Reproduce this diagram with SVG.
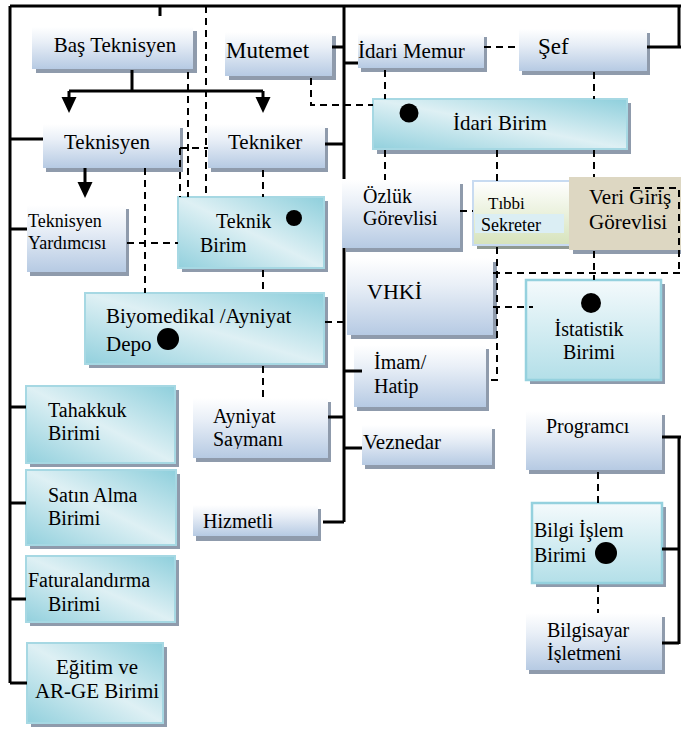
<svg xmlns="http://www.w3.org/2000/svg" width="681" height="729" viewBox="0 0 681 729" font-size="20">
<defs>
<style>
text{font-family:"Liberation Serif","Times New Roman",serif;fill:#000}
.sh{fill:#8f9bac}
.g{fill:url(#gb)}
.c{fill:url(#gc);stroke:#a6d8e3;stroke-width:2}
.c2{fill:url(#gc2);stroke:#95d1de;stroke-width:2.5}
.dot{fill:#000}
.s{stroke:#000;stroke-width:3;fill:none}
.d{stroke:#000;stroke-width:2;stroke-dasharray:7 5;fill:none}
</style>
<linearGradient id="gb" x1="0" y1="0" x2="0" y2="1">
<stop offset="0" stop-color="#ffffff"/>
<stop offset="0.35" stop-color="#e9eff7"/>
<stop offset="1" stop-color="#b6cae3"/>
</linearGradient>
<linearGradient id="gc" x1="1" y1="0" x2="0" y2="1">
<stop offset="0" stop-color="#8ecfdc"/>
<stop offset="0.5" stop-color="#def0f4"/>
<stop offset="1" stop-color="#92d0dd"/>
</linearGradient>
<linearGradient id="gc2" x1="0" y1="0" x2="0" y2="1">
<stop offset="0" stop-color="#f4fafc"/>
<stop offset="1" stop-color="#b3dfe8"/>
</linearGradient>
<linearGradient id="gt" x1="0" y1="0" x2="0" y2="1">
<stop offset="0" stop-color="#ffffff"/>
<stop offset="1" stop-color="#d6e3bb"/>
</linearGradient>
<marker id="ah" markerUnits="userSpaceOnUse" markerWidth="16" markerHeight="16" refX="0" refY="7.5" orient="auto">
<path d="M0,0 L16,7.5 L0,15 Z" fill="#000"/>
</marker>
<clipPath id="clA"><rect x="190" y="395" width="140" height="54"/></clipPath>
<clipPath id="clH"><rect x="190" y="500" width="130" height="28"/></clipPath>
<clipPath id="clF"><rect x="20" y="550" width="160" height="63"/></clipPath>
<clipPath id="clB"><rect x="520" y="610" width="145" height="53"/></clipPath>
</defs>
<rect width="681" height="729" fill="#ffffff"/>

<g id="n-bas-teknisyen"><rect class="sh" x="36" y="31" width="161" height="42"/><rect class="g" x="32" y="27" width="161" height="42"/><text x="115" y="52" font-size="21" text-anchor="middle">Baş Teknisyen</text></g>
<g id="n-mutemet"><rect class="sh" x="229" y="36" width="107" height="44"/><rect class="g" x="225" y="32" width="107" height="44"/><text x="226" y="58" font-size="23">Mutemet</text></g>
<g id="n-idari-memur"><rect class="sh" x="361" y="37" width="126" height="35"/><rect class="g" x="358" y="33" width="126" height="35"/><text x="358" y="58" font-size="21">İdari Memur</text></g>
<g id="n-sef"><rect class="sh" x="522" y="33" width="128" height="42"/><rect class="g" x="519" y="29" width="128" height="42"/><text x="538" y="54" font-size="23">Şef</text></g>
<g id="n-teknisyen"><rect class="sh" x="46" y="128" width="137" height="44"/><rect class="g" x="43" y="124" width="137" height="44"/><text x="64" y="149" font-size="21">Teknisyen</text></g>
<g id="n-tekniker"><rect class="sh" x="211" y="128" width="117" height="44"/><rect class="g" x="208" y="124" width="117" height="44"/><text x="228" y="149" font-size="21">Tekniker</text></g>
<g id="n-idari-birim"><rect class="sh" x="377" y="103" width="254" height="51"/><rect class="c" x="373" y="99" width="254" height="50"/><circle class="dot" cx="409" cy="113" r="9.5"/><text x="453" y="130" font-size="21">İdari Birim</text></g>
<g id="n-teknisyen-yardimcisi"><rect class="sh" x="30" y="209" width="99" height="67"/><rect class="g" x="27" y="205" width="99" height="67"/><text x="28" y="227" font-size="18">Teknisyen</text><text x="28" y="249" font-size="18">Yardımcısı</text></g>
<g id="n-teknik-birim"><rect class="sh" x="182" y="201" width="146" height="71"/><rect class="c" x="178" y="197" width="146" height="71"/><circle class="dot" cx="294" cy="218" r="8"/><text x="216" y="228">Teknik</text><text x="200" y="252">Birim</text></g>
<g id="n-ozluk"><rect class="sh" x="346" y="184" width="117" height="68"/><rect class="g" x="342" y="180" width="118" height="68"/><text x="363" y="203">Özlük</text><text x="363" y="225">Görevlisi</text></g>
<g id="n-tibbi-sekreter"><rect x="477" y="185" width="98" height="64" fill="#8f9a92"/><rect x="473" y="181" width="98" height="64" fill="url(#gt)" stroke="#c8dbf1" stroke-width="2"/><rect x="475" y="214" width="89" height="19" fill="#dbeef4"/><text x="488" y="209" font-size="17">Tıbbi</text><text x="481" y="231" font-size="18">Sekreter</text></g>
<g id="n-veri-giris"><rect class="sh" x="573" y="181" width="115" height="73"/><rect x="569" y="177" width="115" height="73" fill="#ddd7c2"/><text x="589" y="204" font-size="21">Veri Giriş</text><text x="589" y="229" font-size="21">Görevlisi</text></g>
<g id="n-vhki"><rect class="sh" x="351" y="262" width="146" height="77"/><rect class="g" x="347" y="258" width="146" height="77"/><text x="367" y="299" font-size="22">VHKİ</text></g>
<g id="n-biyomedikal"><rect class="sh" x="89" y="297" width="239" height="71"/><rect class="c" x="85" y="293" width="239" height="71"/><text x="106" y="323" font-size="21">Biyomedikal /Ayniyat</text><text x="106" y="351" font-size="21">Depo</text><circle class="dot" cx="168" cy="339" r="11"/></g>
<g id="n-imam-hatip"><rect class="sh" x="357" y="349" width="132" height="62"/><rect class="g" x="354" y="345" width="132" height="62"/><text x="374" y="369">İmam/</text><text x="374" y="393">Hatip</text></g>
<g id="n-veznedar"><rect class="sh" x="365" y="429" width="130" height="40"/><rect class="g" x="362" y="425" width="130" height="40"/><text x="363" y="449" font-size="21">Veznedar</text></g>
<g id="n-ayniyat-saymani"><rect class="sh" x="196" y="402" width="135" height="60"/><rect class="g" x="193" y="398" width="135" height="60"/><text x="213" y="423">Ayniyat</text><text x="213" y="446" clip-path="url(#clA)">Saymanı</text></g>
<g id="n-hizmetli"><rect class="sh" x="196" y="509" width="125" height="32"/><rect class="g" x="193" y="505" width="125" height="31"/><text x="203" y="528" clip-path="url(#clH)">Hizmetli</text></g>
<g id="n-tahakkuk"><rect class="sh" x="30" y="390" width="149" height="77"/><rect class="c" x="26" y="386" width="149" height="77"/><text x="48" y="417">Tahakkuk</text><text x="48" y="440">Birimi</text></g>
<g id="n-satin-alma"><rect class="sh" x="30" y="474" width="150" height="75"/><rect class="c" x="26" y="470" width="150" height="75"/><text x="48" y="502">Satın Alma</text><text x="48" y="525">Birimi</text></g>
<g id="n-faturalandirma"><rect class="sh" x="30" y="560" width="149" height="66"/><rect class="c" x="26" y="556" width="149" height="66"/><text x="28" y="587">Faturalandırma</text><text x="48" y="611" clip-path="url(#clF)">Birimi</text></g>
<g id="n-egitim"><rect class="sh" x="31" y="647" width="136" height="80"/><rect class="c" x="27" y="643" width="136" height="80"/><text x="97" y="674" font-size="21" text-anchor="middle">Eğitim ve</text><text x="97" y="698" font-size="21" text-anchor="middle">AR-GE Birimi</text></g>
<g id="n-istatistik"><rect class="sh" x="530" y="284" width="135" height="100"/><rect class="c2" x="526" y="280" width="135" height="100"/><circle class="dot" cx="591" cy="303" r="10"/><text x="589" y="336" text-anchor="middle">İstatistik</text><text x="589" y="359" text-anchor="middle">Birimi</text></g>
<g id="n-programci"><rect class="sh" x="529" y="415" width="136" height="59"/><rect class="g" x="526" y="411" width="136" height="59"/><text x="546" y="433">Programcı</text></g>
<g id="n-bilgi-islem"><rect class="sh" x="536" y="507" width="130" height="80"/><rect class="c2" x="532" y="503" width="130" height="80"/><text x="534" y="537">Bilgi İşlem</text><text x="534" y="562">Birimi</text><circle class="dot" cx="606" cy="553" r="11"/></g>
<g id="n-bilgisayar"><rect class="sh" x="529" y="617" width="136" height="57"/><rect class="g" x="526" y="613" width="136" height="57"/><text x="547" y="637">Bilgisayar</text><text x="547" y="660" clip-path="url(#clB)">İşletmeni</text></g>

<g id="connectors">
<path class="s" d="M10,6 H681 M160,6 V16 M10,6 V683 M10,139 H43 M10,229 H27 M10,407 H26 M10,503 H26 M10,599 H26 M10,683 H27"/>
<path class="s" d="M132,70 V91 M69,91 H263"/>
<path class="s" d="M69,91 V97" marker-end="url(#ah)"/>
<path class="s" d="M263,91 V97" marker-end="url(#ah)"/>
<path class="s" d="M85,168 V182" marker-end="url(#ah)"/>
<path class="s" d="M344,6 V179 M344,248 V522 M332,47 H344 M344,63 H358 M325,144 H344 M344,371 H362 M344,448 H362 M328,417 H344 M323,522 H344"/>
<path class="s" d="M647,47 H681 M679,6 V47 M662,437 H681 M679,437 V644 M662,549 H679 M662,643 H679"/>
<path class="d" d="M206,6 V197 M188,72 V197 M180,148 V197 M180,148 H208 M145,168 V293 M127,243 H178"/>
<path class="d" d="M263,170 V197 M263,270 V293 M263,366 V398"/>
<path class="d" d="M311,78 V105 H373 M385,70 V99 M385,150 V180 M484,47 H519"/>
<path class="d" d="M594,72 V99 M594,150 V177 M594,251 V280 M497,150 V181 M497,247 V380 H488 M460,211 H473"/>
<path class="d" d="M493,273 H681 M493,307 H533 M325,322 H347 M633,188 H679 V273"/>
<path class="d" d="M598,472 V503 M598,585 V613"/>
</g>
</svg>
